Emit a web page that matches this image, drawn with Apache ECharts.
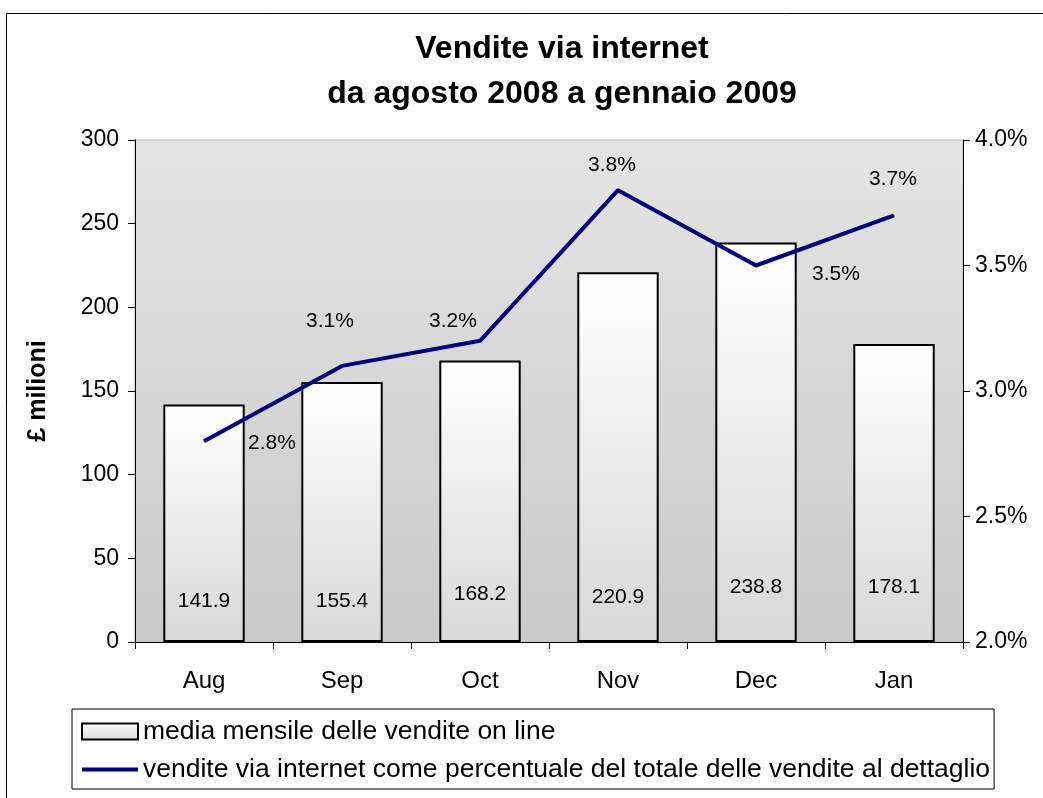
<!DOCTYPE html>
<html>
<head>
<meta charset="utf-8">
<script src="https://cdn.jsdelivr.net/npm/echarts@6/dist/echarts.min.js"></script>
<style>
  html, body { margin: 0; padding: 0; background: #fff; }
  #chart { width: 1043px; height: 798px; }
</style>
</head>
<body>
<div id="chart"></div>
<script>
// dati
var months = ['Aug', 'Sep', 'Oct', 'Nov', 'Dec', 'Jan'];
var salesMillions = [141.9, 155.4, 168.2, 220.9, 238.8, 178.1];
var sharePercent = [2.8, 3.1, 3.2, 3.8, 3.5, 3.7];
var leftTicks = [0, 50, 100, 150, 200, 250, 300];
var rightTicks = [2.0, 2.5, 3.0, 3.5, 4.0];

var seriesNames = [
  'media mensile delle vendite on line',
  'vendite via internet come percentuale del totale delle vendite al dettaglio'
];

// posizione delle etichette (spostate a mano come nell'originale)
var barLabelDist = [30, 30, 37, 34, 44, 44];
var lineLabelOffset = [[68, 2], [-12, -45], [-27, -20], [-6, -25], [80, 9], [-1, -36]];

var font = "'Liberation Sans', Arial, sans-serif";

var chart = echarts.init(document.getElementById('chart'));

var barData = salesMillions.map(function (v, i) {
  return {
    value: v,
    label: { distance: barLabelDist[i] }
  };
});

var lineData = sharePercent.map(function (v, i) {
  return {
    value: v,
    label: { offset: lineLabelOffset[i] }
  };
});

var option = {
  animation: false,
  backgroundColor: '#fff',
  textStyle: { fontFamily: font },
  title: {
    text: 'Vendite via internet\nda agosto 2008 a gennaio 2009',
    left: 557,
    textAlign: 'center',
    top: 22,
    textStyle: {
      fontFamily: font,
      fontSize: 32,
      fontWeight: 'bold',
      color: '#000',
      lineHeight: 45
    }
  },
  graphic: [{
    type: 'rect',
    left: 4,
    top: 11,
    shape: { width: 1100, height: 900 },
    style: { fill: 'none', stroke: '#000', lineWidth: 1 },
    silent: true,
    z: -10
  }],
  legend: {
    orient: 'vertical',
    left: 72,
    top: 709,
    backgroundColor: '#fff',
    borderColor: '#000',
    borderWidth: 1,
    padding: [9, 4, 6, 8],
    itemGap: 11,
    itemWidth: 56,
    itemHeight: 16,
    textStyle: { fontFamily: font, fontSize: 26.5, color: '#000', padding: [0, 0, 0, 0] },
    data: [
      { name: seriesNames[0], icon: 'rect' },
      { name: seriesNames[1], itemStyle: { opacity: 0 }, lineStyle: { width: 4 } }
    ]
  },
  grid: {
    left: 135,
    right: 80,
    top: 140,
    bottom: 156,
    show: true,
    borderWidth: 1,
    borderColor: '#bdbdbd',
    backgroundColor: {
      type: 'linear', x: 0, y: 0, x2: 0, y2: 1,
      colorStops: [
        { offset: 0, color: '#e4e4e4' },
        { offset: 1, color: '#c9c9c9' }
      ]
    }
  },
  xAxis: {
    type: 'category',
    data: months,
    boundaryGap: true,
    axisLine: { lineStyle: { color: '#000', width: 1 } },
    axisTick: { show: true, length: 7, lineStyle: { color: '#000' } },
    axisLabel: { fontFamily: font, fontSize: 24, color: '#000', margin: 27 }
  },
  yAxis: [{
    type: 'value',
    min: leftTicks[0],
    max: leftTicks[leftTicks.length - 1],
    interval: leftTicks[1] - leftTicks[0],
    name: '£ milioni',
    nameLocation: 'middle',
    nameRotate: 90,
    nameGap: 84,
    nameTextStyle: { fontFamily: font, fontSize: 25, fontWeight: 'bold', color: '#000' },
    axisLine: { show: true, lineStyle: { color: '#000' } },
    axisTick: { show: true, length: 7, lineStyle: { color: '#000' } },
    axisLabel: { fontFamily: font, fontSize: 23, color: '#000', margin: 16 },
    splitLine: { show: false }
  }, {
    type: 'value',
    position: 'right',
    min: rightTicks[0],
    max: rightTicks[rightTicks.length - 1],
    interval: rightTicks[1] - rightTicks[0],
    axisLine: { show: true, lineStyle: { color: '#000' } },
    axisTick: { show: true, length: 7, lineStyle: { color: '#000' } },
    axisLabel: {
      fontFamily: font, fontSize: 23, color: '#000', margin: 12,
      formatter: function (v) { return v.toFixed(1) + '%'; }
    },
    splitLine: { show: false }
  }],
  series: [{
    name: seriesNames[0],
    type: 'bar',
    yAxisIndex: 0,
    barWidth: '59%',
    data: barData,
    itemStyle: {
      borderColor: '#000',
      borderWidth: 2,
      color: {
        type: 'linear', x: 0, y: 0, x2: 0, y2: 1,
        colorStops: [
          { offset: 0, color: '#ffffff' },
          { offset: 1, color: '#d8d8d8' }
        ]
      }
    },
    label: {
      show: true,
      position: 'insideBottom',
      fontFamily: font,
      fontSize: 21,
      color: '#000',
      formatter: function (p) { return p.value.toFixed(1); }
    }
  }, {
    name: seriesNames[1],
    type: 'line',
    yAxisIndex: 1,
    data: lineData,
    symbol: 'circle',
    symbolSize: 1,
    lineStyle: { color: '#000080', width: 4 },
    itemStyle: { color: '#000080' },
    label: {
      show: true,
      position: 'inside',
      fontFamily: font,
      fontSize: 21,
      color: '#000',
      formatter: function (p) { return p.value.toFixed(1) + '%'; }
    }
  }]
};

chart.setOption(option);
</script>
</body>
</html>
